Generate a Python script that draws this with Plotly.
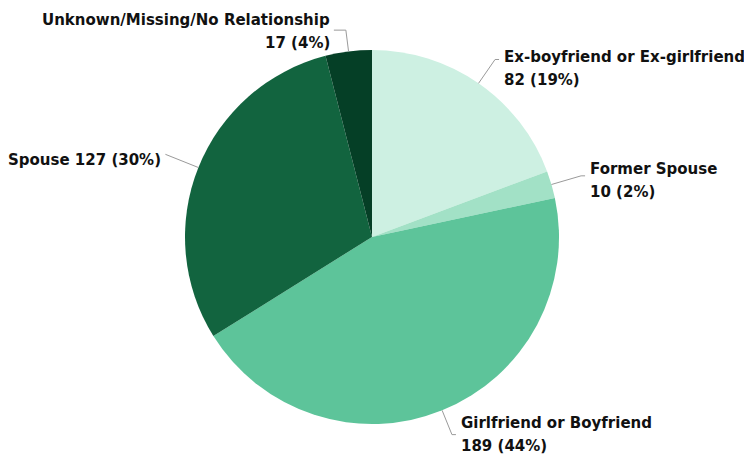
import math
import plotly.graph_objects as go

# Relationship of victim to offender
categories = [
    "Ex-boyfriend or Ex-girlfriend",
    "Former Spouse",
    "Girlfriend or Boyfriend",
    "Spouse",
    "Unknown/Missing/No Relationship",
]
counts = [82, 10, 189, 127, 17]
label_lines = [
    ["Ex-boyfriend or Ex-girlfriend", "82 (19%)"],
    ["Former Spouse", "10 (2%)"],
    ["Girlfriend or Boyfriend", "189 (44%)"],
    ["Spouse 127 (30%)"],
    ["Unknown/Missing/No Relationship", "17 (4%)"],
]
colors = ["#cdf0e2", "#a2e1c6", "#5dc49a", "#12643f", "#053f26"]

W, H = 744, 455
CX, CY, R = 372, 237, 187          # pie centre and radius in pixels
elbow_r = [1.155, 1.165, 1.14, 1.19, 1.115]   # leader elbow radius (fraction of R)
tail = [4, 4, 4, 0, -12]           # horizontal leader tail in pixels
text_dy = [9, 5, 0, 6, 1]          # label block offset below the elbow, pixels
align_right = [False, False, False, True, True]
LINE_GAP = 23

fig = go.Figure(go.Pie(
    labels=categories,
    values=counts,
    sort=False,
    direction="clockwise",
    rotation=0,
    marker=dict(colors=colors, line=dict(width=0)),
    textinfo="none",
    hoverinfo="label+value+percent",
    showlegend=False,
    domain=dict(x=[(CX - R) / W, (CX + R) / W],
                y=[(H - CY - R) / H, (H - CY + R) / H]),
))

def px_to_paper(x, y):
    return x / W, 1 - y / H

total = sum(counts)
cum = 0
shapes, annotations = [], []
for i, v in enumerate(counts):
    mid = (cum + v / 2) / total * 2 * math.pi
    cum += v
    sx, sy = CX + R * math.sin(mid), CY - R * math.cos(mid)
    ex, ey = CX + R * elbow_r[i] * math.sin(mid), CY - R * elbow_r[i] * math.cos(mid)
    tx, ty = ex + tail[i], ey
    path = "M {} {} L {} {} L {} {}".format(
        *px_to_paper(sx, sy), *px_to_paper(ex, ey), *px_to_paper(tx, ty))
    shapes.append(dict(type="path", xref="paper", yref="paper", path=path,
                       line=dict(color="#9a9a9a", width=1)))
    right = align_right[i]
    lx = tx + (-2 if right else 3)
    n = len(label_lines[i])
    for j, line in enumerate(label_lines[i]):
        ly = ty + text_dy[i] + (j - (n - 1) / 2) * LINE_GAP
        ax, ay = px_to_paper(lx, ly)
        annotations.append(dict(
            x=ax, y=ay, xref="paper", yref="paper", showarrow=False,
            text="<b>" + line + "</b>",
            xanchor="right" if right else "left",
            yanchor="middle",
            font=dict(family="DejaVu Sans", size=15, color="#111111"),
        ))

fig.update_layout(
    width=W, height=H,
    margin=dict(l=0, r=0, t=0, b=0),
    paper_bgcolor="white",
    plot_bgcolor="white",
    shapes=shapes,
    annotations=annotations,
)

fig.write_html("out.html")
